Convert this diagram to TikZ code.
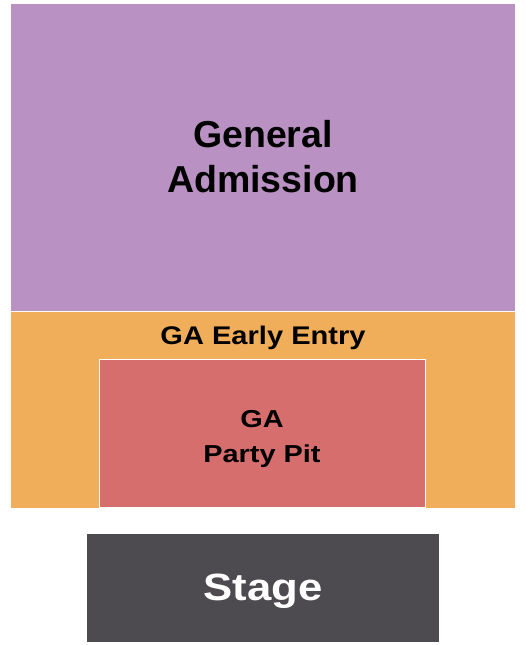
\documentclass[tikz,border=0pt]{standalone}
\usepackage{fontspec}
\setmainfont{Liberation Sans}
\usetikzlibrary{positioning}

\definecolor{gaPurple}{RGB}{185,145,194}
\definecolor{earlyOrange}{RGB}{240,174,90}
\definecolor{pitRed}{RGB}{215,110,110}
\definecolor{stageGrey}{RGB}{77,75,79}

\begin{document}
\begin{tikzpicture}[x=1pt, y=1pt,
    zone/.style={draw=none, inner sep=0pt, outer sep=0pt, anchor=north west},
    zone_label/.style={font=\bfseries, align=center, inner sep=0pt, text=black}
]
    \useasboundingbox (0,0) rectangle (525,645);

    % General admission block
    \node[zone, fill=gaPurple, minimum width=504pt, minimum height=307pt] (ga) at (11,641) {};
    \node[zone_label, font=\bfseries\fontsize{37.5}{44.4}\selectfont] (ga_text) at ([yshift=1pt]ga.center) {General\\Admission};

    % Early entry block
    \node[zone, fill=earlyOrange, minimum width=504pt, minimum height=196pt] (early) at (11,333) {};
    \node[zone_label, font=\bfseries\fontsize{25.5}{30}\selectfont, anchor=base, xscale=1.14, transform shape] (early_text) at ([yshift=-33pt]early.north) {GA Early Entry};

    % Party pit (white edge)
    \node[zone, fill=pitRed, draw=white, line width=1pt, minimum width=326pt, minimum height=148pt] (pit) at (99,285) {};
    \node[zone_label, font=\bfseries\fontsize{24.5}{34.7}\selectfont, xscale=1.18, transform shape] (pit_text) at ([yshift=-5pt]pit.center) {GA\\Party Pit};

    % Stage
    \node[zone, fill=stageGrey, minimum width=352pt, minimum height=108pt] (stage) at (87,111) {};
    \node[zone_label, font=\bfseries\fontsize{38}{44}\selectfont, text=white, anchor=base, xscale=1.15, transform shape] (stage_text) at ([yshift=-67pt]stage.north) {Stage};
\end{tikzpicture}
\end{document}
